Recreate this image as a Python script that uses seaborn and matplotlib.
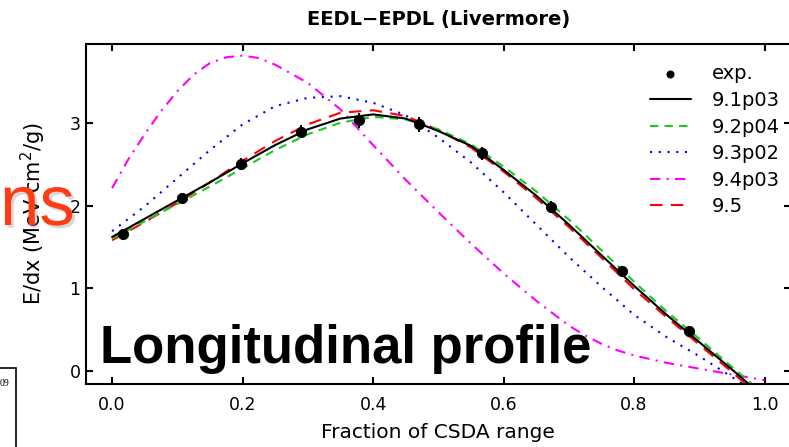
import matplotlib
matplotlib.use("Agg")
import matplotlib.pyplot as plt
import matplotlib.patheffects as pe
from matplotlib.patches import Rectangle
import pandas as pd
import seaborn as sns

exp_x = [0.016, 0.107, 0.197, 0.289, 0.378, 0.470, 0.567, 0.672, 0.782, 0.884]
exp_y = [1.66, 2.09, 2.50, 2.89, 3.03, 2.98, 2.63, 1.98, 1.21, 0.49]
exp_err = [0.06, 0.06, 0.07, 0.08, 0.09, 0.09, 0.08, 0.07, 0.06, 0.05]

x_common = [0.0, 0.05, 0.1, 0.15, 0.2, 0.25, 0.3, 0.35, 0.4, 0.45, 0.5,
            0.55, 0.6, 0.65, 0.7, 0.75, 0.8, 0.85, 0.9, 0.95]

v91_x = x_common + [0.975]
v91_y = [1.62, 1.84, 2.06, 2.28, 2.51, 2.73, 2.92, 3.05, 3.10, 3.05, 2.90,
         2.72, 2.43, 2.12, 1.77, 1.40, 1.03, 0.68, 0.35, 0.02, -0.15]

v92_x = x_common + [0.98]
v92_y = [1.60, 1.81, 2.02, 2.23, 2.45, 2.67, 2.86, 3.00, 3.07, 3.04, 2.92,
         2.74, 2.47, 2.17, 1.83, 1.46, 1.08, 0.72, 0.39, 0.05, -0.15]

v93_x = x_common + [0.965]
v93_y = [1.69, 1.99, 2.33, 2.67, 2.98, 3.20, 3.30, 3.32, 3.24, 3.09, 2.82,
         2.52, 2.16, 1.77, 1.38, 1.02, 0.68, 0.41, 0.18, -0.07, -0.15]

v94_x = [0.0, 0.025, 0.05, 0.075, 0.1, 0.125, 0.15, 0.175, 0.2, 0.225, 0.25,
         0.3, 0.35, 0.4, 0.45, 0.5, 0.55, 0.6, 0.65, 0.7, 0.725, 0.75,
         0.775, 0.8, 0.85, 0.9, 0.95, 1.0]
v94_y = [2.21, 2.56, 2.86, 3.14, 3.38, 3.58, 3.72, 3.79, 3.81, 3.78, 3.70,
         3.48, 3.16, 2.73, 2.31, 1.92, 1.54, 1.18, 0.85, 0.55, 0.43, 0.33,
         0.25, 0.19, 0.10, 0.03, -0.04, -0.11]

v95_x = x_common + [0.97]
v95_y = [1.58, 1.80, 2.03, 2.28, 2.54, 2.78, 2.98, 3.12, 3.15, 3.08, 2.91,
         2.70, 2.41, 2.09, 1.74, 1.37, 0.99, 0.65, 0.32, -0.01, -0.15]

x_ticks = [0.0, 0.2, 0.4, 0.6, 0.8, 1.0]
y_ticks = [0, 1, 2, 3]

sns.set_style("ticks", {"xtick.direction": "in", "ytick.direction": "in",
                        "text.color": "black", "axes.labelcolor": "black",
                        "axes.edgecolor": "black", "xtick.color": "black",
                        "ytick.color": "black"})
plt.rcParams["font.family"] = ["DejaVu Sans"]

fig = plt.figure(figsize=(7.89, 4.47), dpi=100)
ax = fig.add_axes([86 / 789, 63 / 447, 704.7 / 789, 340 / 447])

# draw order: black on top of the others
series = [
    ("9.4p03", v94_x, v94_y, "#ff00ff", (0, (5, 3, 1, 3))),
    ("9.3p02", v93_x, v93_y, "#0000ff", (0, (1, 3.2))),
    ("9.5", v95_x, v95_y, "#ff0000", (0, (6, 4))),
    ("9.2p04", v92_x, v92_y, "#1ec81e", (0, (4, 3))),
    ("9.1p03", v91_x, v91_y, "black", "-"),
]
for name, xs, ys, col, ls in series:
    df = pd.DataFrame({"x": xs, "y": ys})
    sns.lineplot(data=df, x="x", y="y", color=col, linestyle=ls, lw=1.5,
                 label=name, ax=ax, sort=False)

ax.errorbar(exp_x, exp_y, yerr=exp_err, fmt="none", ecolor="black",
            elinewidth=1.5, capsize=0, zorder=4)
sns.scatterplot(x=exp_x, y=exp_y, color="black", s=55, edgecolor="black",
                label="exp.", ax=ax, zorder=5)

ax.set_xlim(-0.04, 1.04)
ax.set_ylim(-0.155, 3.95)
ax.set_xticks(x_ticks)
ax.set_xticklabels([f"{t:.1f}" for t in x_ticks])
ax.set_yticks(y_ticks)
ax.tick_params(axis="both", which="both", direction="in", length=5, width=1.5,
               labelsize=12.5, top=True, right=True, colors="black")
ax.tick_params(axis="x", pad=9)
ax.tick_params(axis="y", pad=4)
for s in ax.spines.values():
    s.set_linewidth(1.5)
    s.set_color("black")

ax.set_title("EEDL\u2212EPDL (Livermore)", fontsize=14, fontweight="bold",
             pad=14, color="black")
ax.set_xlabel("Fraction of CSDA range", fontsize=14.5, labelpad=6)
ax.set_ylabel("E/dx (MeV cm$^2$/g)", fontsize=15)
ax.yaxis.set_label_coords(-0.054, 0.5)

handles, labels = ax.get_legend_handles_labels()
order = ["exp.", "9.1p03", "9.2p04", "9.3p02", "9.4p03", "9.5"]
hmap = dict(zip(labels, handles))
ax.legend([hmap[k] for k in order], order, loc="upper left",
          bbox_to_anchor=(0.789, 0.963), frameon=False, fontsize=14,
          handlelength=2.1, handletextpad=1.1, labelspacing=0.39,
          borderaxespad=0, markerscale=0.7)

# slide overlays
fig.text(100 / 789, (447 - 363) / 447, "Longitudinal profile", fontsize=38,
         fontweight="bold", family="Liberation Sans", va="baseline",
         color="black", zorder=10)
fig.text(0 / 789, (447 - 225) / 447, "ns", fontsize=51, color="#ff3c14",
         family="Liberation Sans", va="baseline", zorder=10,
         path_effects=[pe.withSimplePatchShadow(offset=(2, -2),
                                                shadow_rgbFace="gray", alpha=0.3)])
fig.add_artist(Rectangle((-10 / 789, -0.05), 26 / 789, (447 - 368) / 447 + 0.05,
                         transform=fig.transFigure, fill=False, edgecolor="black",
                         linewidth=1.2))
fig.text(9 / 789, (447 - 386) / 447, "09", fontsize=7, family="Liberation Serif",
         ha="right", va="baseline", color="black")

fig.savefig("out.png", dpi=100)
